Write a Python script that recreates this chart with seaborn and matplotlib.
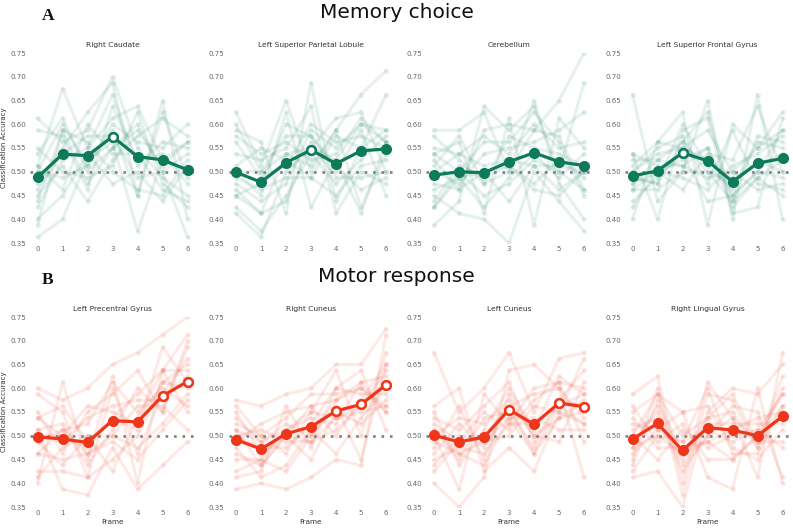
import numpy as np
import pandas as pd
import matplotlib
matplotlib.use("Agg")
import matplotlib.pyplot as plt
import seaborn as sns

frames = [0, 1, 2, 3, 4, 5, 6]

titles_a = ["Right Caudate", "Left Superior Parietal Lobule", "Cerebellum", "Left Superior Frontal Gyrus"]
titles_b = ["Left Precentral Gyrus", "Right Cuneus", "Left Cuneus", "Right Lingual Gyrus"]

# group means per frame
mean_a = [
    [0.488, 0.537, 0.534, 0.574, 0.532, 0.525, 0.504],
    [0.499, 0.478, 0.519, 0.546, 0.517, 0.544, 0.548],
    [0.493, 0.500, 0.498, 0.521, 0.540, 0.521, 0.513],
    [0.491, 0.502, 0.540, 0.523, 0.479, 0.518, 0.528],
]
mean_b = [
    [0.498, 0.493, 0.486, 0.532, 0.529, 0.584, 0.614],
    [0.492, 0.472, 0.504, 0.519, 0.552, 0.566, 0.607],
    [0.501, 0.487, 0.497, 0.555, 0.524, 0.569, 0.561],
    [0.493, 0.526, 0.469, 0.517, 0.512, 0.500, 0.541],
]
# frames where the group mean is significant (hollow markers)
sig_a = [[3], [3], [], [2]]
sig_b = [[5, 6], [4, 5, 6], [3, 5, 6], []]

# individual subjects
subj_a1 = [
    [0.5125, 0.675, 0.55, 0.6125, 0.6375, 0.525, 0.5],
    [0.6125, 0.5625, 0.5875, 0.70, 0.55, 0.4875, 0.45],
    [0.3625, 0.4, 0.525, 0.5625, 0.375, 0.525, 0.5625],
    [0.475, 0.55, 0.625, 0.6875, 0.45, 0.65, 0.4],
    [0.5375, 0.6125, 0.5, 0.55, 0.6, 0.5, 0.3625],
    [0.45, 0.5125, 0.4375, 0.525, 0.575, 0.6125, 0.575],
    [0.4375, 0.5875, 0.5625, 0.5, 0.4625, 0.45, 0.525],
    [0.5, 0.4875, 0.5125, 0.6, 0.5625, 0.55, 0.6],
    [0.4, 0.45, 0.5375, 0.475, 0.5, 0.4375, 0.5125],
    [0.5875, 0.575, 0.4625, 0.6375, 0.525, 0.5375, 0.475],
    [0.4625, 0.5375, 0.575, 0.575, 0.4875, 0.5, 0.5375],
    [0.55, 0.5, 0.4875, 0.5125, 0.625, 0.475, 0.425],
    [0.425, 0.525, 0.55, 0.6625, 0.5125, 0.5625, 0.55],
    [0.5, 0.6, 0.5125, 0.5875, 0.45, 0.625, 0.4875],
    [0.5125, 0.4625, 0.6, 0.5375, 0.5375, 0.4625, 0.4375],
    [0.3875, 0.5875, 0.475, 0.55, 0.5875, 0.5125, 0.5625],
]
subj_a2 = [
    [0.625, 0.5125, 0.65, 0.5, 0.5875, 0.6625, 0.7125],
    [0.5875, 0.5625, 0.4125, 0.6875, 0.4375, 0.55, 0.6625],
    [0.4125, 0.3625, 0.5, 0.55, 0.6125, 0.625, 0.5],
    [0.5, 0.45, 0.625, 0.425, 0.525, 0.4125, 0.5625],
    [0.5375, 0.525, 0.55, 0.6375, 0.4125, 0.5, 0.475],
    [0.475, 0.4375, 0.475, 0.5875, 0.55, 0.6, 0.5875],
    [0.45, 0.4125, 0.5375, 0.5125, 0.5875, 0.425, 0.5375],
    [0.6, 0.5, 0.575, 0.575, 0.5, 0.5875, 0.45],
    [0.425, 0.375, 0.45, 0.5375, 0.475, 0.525, 0.575],
    [0.5625, 0.4875, 0.5125, 0.6, 0.5625, 0.575, 0.55],
    [0.4875, 0.4625, 0.4875, 0.4875, 0.45, 0.5125, 0.525],
    [0.575, 0.5375, 0.5625, 0.525, 0.5375, 0.6125, 0.5625],
    [0.4625, 0.4125, 0.4375, 0.5625, 0.4875, 0.4875, 0.5],
    [0.5125, 0.55, 0.525, 0.4875, 0.575, 0.55, 0.5875],
    [0.45, 0.475, 0.6, 0.575, 0.5125, 0.4625, 0.4875],
    [0.5, 0.5, 0.5375, 0.55, 0.525, 0.6, 0.5625],
]
subj_a3 = [
    [0.5875, 0.5875, 0.625, 0.5, 0.5875, 0.65, 0.75],
    [0.3875, 0.4375, 0.6375, 0.5875, 0.6375, 0.5, 0.6875],
    [0.45, 0.4125, 0.4, 0.35, 0.5, 0.4375, 0.375],
    [0.5375, 0.5625, 0.4125, 0.6125, 0.3875, 0.6125, 0.55],
    [0.575, 0.525, 0.475, 0.5, 0.65, 0.475, 0.4],
    [0.5, 0.475, 0.5375, 0.55, 0.5625, 0.5875, 0.625],
    [0.425, 0.5, 0.45, 0.475, 0.525, 0.5, 0.4625],
    [0.55, 0.5375, 0.575, 0.5375, 0.6, 0.55, 0.5625],
    [0.475, 0.4625, 0.5, 0.4375, 0.5125, 0.4625, 0.5],
    [0.5125, 0.575, 0.475, 0.575, 0.55, 0.5375, 0.5125],
    [0.4375, 0.5125, 0.4875, 0.5125, 0.475, 0.525, 0.4875],
    [0.5375, 0.5, 0.5625, 0.5625, 0.625, 0.5625, 0.45],
    [0.4625, 0.4875, 0.425, 0.4875, 0.5375, 0.4875, 0.5375],
    [0.5, 0.5375, 0.5125, 0.525, 0.5125, 0.5125, 0.5],
    [0.425, 0.4875, 0.5, 0.5125, 0.4625, 0.45, 0.5],
    [0.525, 0.4625, 0.5875, 0.6, 0.5875, 0.575, 0.4625],
]
subj_a4 = [
    [0.6625, 0.4375, 0.5, 0.65, 0.4, 0.6625, 0.4],
    [0.4, 0.5625, 0.625, 0.3875, 0.6, 0.55, 0.625],
    [0.5375, 0.4, 0.5875, 0.6125, 0.4125, 0.425, 0.6125],
    [0.475, 0.5, 0.4625, 0.5375, 0.525, 0.6375, 0.5],
    [0.5, 0.55, 0.575, 0.475, 0.5875, 0.475, 0.4625],
    [0.4375, 0.4875, 0.5375, 0.4375, 0.45, 0.5, 0.5875],
    [0.525, 0.525, 0.5625, 0.625, 0.4375, 0.575, 0.5625],
    [0.4625, 0.4625, 0.5, 0.5, 0.475, 0.525, 0.5],
    [0.5, 0.5375, 0.55, 0.5875, 0.5, 0.4625, 0.475],
    [0.4875, 0.475, 0.6, 0.5125, 0.4625, 0.5625, 0.55],
    [0.5375, 0.5125, 0.5125, 0.55, 0.425, 0.4875, 0.525],
    [0.425, 0.5, 0.4875, 0.4625, 0.5125, 0.5375, 0.575],
    [0.5125, 0.5625, 0.55, 0.525, 0.4875, 0.5125, 0.5375],
    [0.4625, 0.5, 0.525, 0.55, 0.45, 0.5, 0.4875],
    [0.475, 0.525, 0.5125, 0.4875, 0.5, 0.55, 0.5875],
    [0.4875, 0.475, 0.5625, 0.5, 0.4375, 0.4875, 0.45],
]
subj_b1 = [
    [0.6, 0.575, 0.6, 0.65, 0.675, 0.7125, 0.75],
    [0.4, 0.6125, 0.45, 0.625, 0.4, 0.6375, 0.7125],
    [0.5125, 0.3875, 0.375, 0.475, 0.3875, 0.4375, 0.4875],
    [0.55, 0.4625, 0.55, 0.5875, 0.6375, 0.55, 0.7],
    [0.425, 0.425, 0.4125, 0.45, 0.5, 0.6125, 0.65],
    [0.4875, 0.5125, 0.525, 0.6125, 0.55, 0.6, 0.5625],
    [0.5375, 0.5625, 0.4875, 0.5375, 0.5125, 0.6875, 0.6125],
    [0.4625, 0.45, 0.4625, 0.5, 0.475, 0.525, 0.5875],
    [0.5, 0.4875, 0.5375, 0.5625, 0.575, 0.575, 0.625],
    [0.5125, 0.525, 0.4375, 0.5125, 0.6, 0.55, 0.6875],
    [0.4125, 0.475, 0.5, 0.425, 0.5375, 0.6375, 0.55],
    [0.5875, 0.55, 0.4125, 0.6, 0.4625, 0.5875, 0.6625],
    [0.4875, 0.4375, 0.5, 0.5, 0.5625, 0.5625, 0.5125],
    [0.5375, 0.5, 0.5625, 0.55, 0.525, 0.6125, 0.6],
    [0.4625, 0.5125, 0.4625, 0.4875, 0.45, 0.5125, 0.575],
    [0.5, 0.5, 0.475, 0.5375, 0.5875, 0.6375, 0.6375],
]
subj_b2 = [
    [0.575, 0.5625, 0.5875, 0.6, 0.65, 0.65, 0.725],
    [0.3875, 0.4, 0.3875, 0.4125, 0.45, 0.4375, 0.7125],
    [0.5625, 0.5, 0.4625, 0.55, 0.6375, 0.5, 0.675],
    [0.4125, 0.425, 0.5625, 0.475, 0.6, 0.6375, 0.5125],
    [0.5125, 0.4875, 0.5125, 0.5375, 0.525, 0.6125, 0.55],
    [0.425, 0.45, 0.425, 0.5, 0.5625, 0.45, 0.65],
    [0.525, 0.5, 0.5375, 0.5875, 0.5875, 0.6, 0.5625],
    [0.4625, 0.4375, 0.5, 0.4875, 0.5375, 0.5625, 0.6375],
    [0.5, 0.475, 0.475, 0.525, 0.6, 0.5875, 0.5875],
    [0.4875, 0.525, 0.55, 0.5625, 0.5, 0.575, 0.65],
    [0.55, 0.4625, 0.5, 0.45, 0.55, 0.525, 0.575],
    [0.475, 0.4125, 0.4375, 0.5125, 0.4625, 0.5375, 0.6],
    [0.5375, 0.4875, 0.525, 0.5, 0.575, 0.6125, 0.625],
    [0.45, 0.45, 0.5125, 0.55, 0.5375, 0.55, 0.5625],
    [0.5, 0.5125, 0.4875, 0.4875, 0.5125, 0.5625, 0.6125],
    [0.5125, 0.4375, 0.5, 0.5625, 0.575, 0.6, 0.55],
]
subj_b3 = [
    [0.675, 0.55, 0.6, 0.675, 0.55, 0.6625, 0.675],
    [0.4, 0.35, 0.4125, 0.6375, 0.65, 0.6, 0.4125],
    [0.5625, 0.6, 0.425, 0.475, 0.425, 0.55, 0.6625],
    [0.5, 0.3875, 0.5875, 0.525, 0.6, 0.6125, 0.4875],
    [0.475, 0.5625, 0.45, 0.5875, 0.5, 0.4875, 0.6125],
    [0.55, 0.4375, 0.5125, 0.6, 0.5125, 0.625, 0.5875],
    [0.4375, 0.5, 0.4875, 0.5, 0.5625, 0.55, 0.525],
    [0.5125, 0.45, 0.5375, 0.55, 0.475, 0.575, 0.6375],
    [0.4625, 0.525, 0.475, 0.5625, 0.4625, 0.5375, 0.55],
    [0.525, 0.4875, 0.55, 0.5125, 0.575, 0.6125, 0.6],
    [0.4875, 0.4625, 0.4375, 0.5375, 0.5375, 0.5125, 0.5125],
    [0.5375, 0.5125, 0.5625, 0.6125, 0.4875, 0.575, 0.5625],
    [0.45, 0.475, 0.4625, 0.525, 0.525, 0.5625, 0.525],
    [0.5, 0.5375, 0.525, 0.575, 0.5, 0.5375, 0.575],
    [0.425, 0.4875, 0.5, 0.5625, 0.5875, 0.6, 0.5375],
    [0.5125, 0.4625, 0.4875, 0.5375, 0.4625, 0.5625, 0.5875],
]
subj_b4 = [
    [0.5875, 0.625, 0.4, 0.6125, 0.5375, 0.4125, 0.675],
    [0.4125, 0.425, 0.35, 0.55, 0.6, 0.5875, 0.65],
    [0.55, 0.5875, 0.55, 0.4125, 0.3875, 0.6, 0.4],
    [0.45, 0.6, 0.375, 0.5875, 0.575, 0.475, 0.625],
    [0.5625, 0.4875, 0.525, 0.45, 0.45, 0.5, 0.5875],
    [0.4875, 0.55, 0.4375, 0.5, 0.5625, 0.55, 0.4125],
    [0.525, 0.5125, 0.4875, 0.6, 0.4625, 0.4625, 0.5625],
    [0.475, 0.5625, 0.45, 0.525, 0.525, 0.525, 0.525],
    [0.5, 0.45, 0.5125, 0.475, 0.5, 0.5125, 0.5875],
    [0.4375, 0.575, 0.4625, 0.5375, 0.5875, 0.4875, 0.4875],
    [0.5375, 0.475, 0.475, 0.4875, 0.5125, 0.5375, 0.55],
    [0.4625, 0.5125, 0.55, 0.5625, 0.475, 0.45, 0.5125],
    [0.5125, 0.5375, 0.425, 0.5, 0.5375, 0.4875, 0.5625],
    [0.475, 0.5, 0.4875, 0.5125, 0.4875, 0.5125, 0.475],
    [0.5, 0.5875, 0.5, 0.5375, 0.55, 0.475, 0.6],
    [0.425, 0.5, 0.4625, 0.4875, 0.45, 0.5, 0.5375],
]

subjects_a = [subj_a1, subj_a2, subj_a3, subj_a4]
subjects_b = [subj_b1, subj_b2, subj_b3, subj_b4]

yticks = [0.35, 0.40, 0.45, 0.50, 0.55, 0.60, 0.65, 0.70, 0.75]

GREEN = "#0d7a5a"
RED = "#f0361a"

sns.set_theme(style="white")
plt.rcParams["font.family"] = ["DejaVu Sans"]

W, H = 793, 528
fig = plt.figure(figsize=(W / 100, H / 100), dpi=100)

lefts = [30, 228.5, 426.5, 625]
ax_w = 165
rows = [(53, 243), (317, 507)]


def draw_panel(ax, subj, mean, sig, color, title, first_col, bottom_row):
    recs = []
    for si, vals in enumerate(subj):
        for f, v in zip(frames, vals):
            recs.append({"subject": si, "frame": f, "acc": v})
    df = pd.DataFrame(recs)
    sns.lineplot(data=df, x="frame", y="acc", units="subject", estimator=None,
                 color=color, alpha=0.10, linewidth=2.2, marker="o",
                 markersize=3.6, markeredgewidth=0, ax=ax, legend=False, zorder=1)
    ax.axhline(0.5, color="#7f7f7f", linestyle=(0, (1, 2.2)), linewidth=1.9, zorder=2)
    sns.lineplot(x=frames, y=mean, color=color, linewidth=2.3, marker="o",
                 markersize=8, markeredgewidth=0, ax=ax, zorder=3)
    if sig:
        sx = [frames[i] for i in sig]
        sy = [mean[i] for i in sig]
        sns.scatterplot(x=sx, y=sy, s=38, facecolor="white", edgecolor=color,
                        linewidth=1.7, ax=ax, zorder=4)
    ax.set_xlim(-0.3, 6.3)
    ax.set_ylim(0.35, 0.75)
    ax.set_xticks(frames)
    ax.set_xticklabels([str(f) for f in frames])
    ax.set_yticks(yticks)
    ax.set_yticklabels([f"{t:.2f}" for t in yticks])
    ax.tick_params(axis="both", labelsize=5, colors="#666666", length=0)
    ax.tick_params(axis="x", pad=2.5)
    ax.tick_params(axis="y", pad=3)
    sns.despine(ax=ax, left=True, bottom=True)
    ax.set_title(title, fontsize=5.4, color="#333333", pad=4)
    if first_col:
        ax.set_ylabel("Classification Accuracy", fontsize=5, color="#333333")
        ax.yaxis.set_label_coords(-0.14, 0.5)
    else:
        ax.set_ylabel("")
    if bottom_row:
        ax.set_xlabel("Frame", fontsize=5.2, color="#333333", labelpad=2)
    else:
        ax.set_xlabel("")


for r, (top, bot) in enumerate(rows):
    subjects = subjects_a if r == 0 else subjects_b
    means = mean_a if r == 0 else mean_b
    sigs = sig_a if r == 0 else sig_b
    titles = titles_a if r == 0 else titles_b
    color = GREEN if r == 0 else RED
    for c in range(4):
        ax = fig.add_axes([lefts[c] / W, (H - bot) / H, ax_w / W, (bot - top) / H])
        ax.set_facecolor("none")
        draw_panel(ax, subjects[c], means[c], sigs[c], color, titles[c], c == 0, r == 1)

fig.text(0.5, 1 - 13 / H, "Memory choice", ha="center", va="center", fontsize=14.5, color="#111111")
fig.text(0.5, 1 - 277 / H, "Motor response", ha="center", va="center", fontsize=14.5, color="#111111")
fig.text(48 / W, 1 - 16 / H, "A", ha="center", va="center", fontsize=12.5,
         fontweight="bold", family="Liberation Serif", color="#111111")
fig.text(48 / W, 1 - 280 / H, "B", ha="center", va="center", fontsize=12.5,
         fontweight="bold", family="Liberation Serif", color="#111111")

fig.savefig("out.png", dpi=100)
